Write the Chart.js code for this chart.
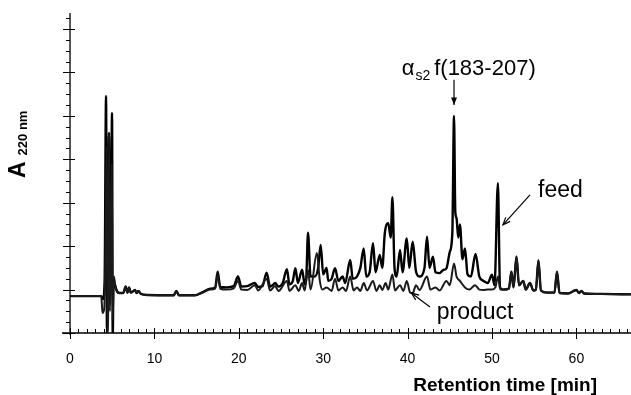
<!DOCTYPE html>
<html>
<head>
<meta charset="utf-8">
<script src="https://cdn.jsdelivr.net/npm/chart.js@4.4.1/dist/chart.umd.min.js"></script>
<style>
html,body{margin:0;padding:0;background:#fff;}
#wrap{width:631px;height:395px;position:relative;}
</style>
</head>
<body>
<div id="wrap"><canvas id="c" width="631" height="395"></canvas></div>
<script>
// ---- data ----
const xTickLabels = [0, 10, 20, 30, 40, 50, 60];
const xTitle = 'Retention time [min]';

const feedTime = [0,3.7,3.9,4.1,4.27,4.38,4.5,4.62,4.72,4.85,4.98,5.06,5.15,5.33,5.6,5.9,6.3,6.6,6.8,7.0,7.2,7.7,7.9,8.1,8.4,9.2,
  12.3,12.6,12.9,14.8,15.6,16.6,17.2,17.5,17.8,18.6,19.4,19.9,20.3,21.0,21.9,22.3,22.8,23.3,23.7,24.0,24.3,24.7,25.2,25.7,26.0,26.4,26.7,27.0,27.5,27.8,
  28.0,28.2,28.5,29.0,29.4,29.7,30.0,30.4,30.6,31.0,31.4,31.8,32.3,32.6,33.2,33.5,34.0,34.4,34.8,35.1,35.5,35.9,36.2,36.7,37.0,37.3,37.7,38.0,38.2,38.45,
  38.7,39.1,39.4,39.9,40.2,40.6,41.0,41.4,42.0,42.3,42.6,43.0,43.3,43.8,44.2,44.6,45.0,45.3,45.5,45.65,45.8,46.0,46.2,46.5,46.8,47.1,47.5,48.05,48.5,
  49.0,49.5,50.0,50.3,50.7,50.95,51.3,52.0,52.3,52.55,52.9,53.2,53.7,54.0,54.5,54.9,55.2,55.5,55.8,56.5,57.4,57.7,58.0,59.0,60.0,60.3,60.6,60.9,63.0,66.5];
const feedAbs = [0.85,0.85,0.78,1.2,5.46,0.0,1.5,4.61,1.0,2.0,5.07,-0.1,1.2,1.1,0.95,0.92,0.92,1.07,0.93,1.05,0.93,0.99,0.92,0.97,0.9,0.875,
  0.87,0.97,0.87,0.87,0.93,1.02,1.05,1.41,1.06,1.05,1.08,1.30,1.07,1.08,1.15,1.06,1.08,1.39,1.07,1.1,1.15,1.07,1.15,1.47,1.12,1.2,1.49,1.15,1.46,1.12,
  1.3,2.31,1.3,1.3,1.5,2.03,1.35,1.5,1.2,1.25,1.49,1.2,1.3,1.15,1.68,1.25,1.3,1.5,1.95,1.3,1.4,2.07,1.4,1.80,1.5,2.30,2.53,2.2,3.13,1.5,
  1.3,1.91,1.4,2.18,1.5,2.10,1.41,1.3,1.5,2.22,1.5,1.76,1.4,1.38,1.45,1.49,1.87,2.3,5.0,2.8,2.64,2.2,2.5,1.7,1.95,1.35,1.3,1.82,1.3,
  1.2,1.15,1.34,1.1,3.45,1.05,1.0,1.02,1.41,1.05,1.76,1.1,1.2,1.0,1.15,0.98,1.0,1.67,0.98,0.93,0.93,1.41,0.92,0.91,0.99,0.92,0.97,0.91,0.9,0.89];

const productTime = [0,3.7,3.85,4.05,4.2,4.35,4.45,4.55,4.62,4.72,4.85,4.95,5.05,5.2,5.4,5.8,6.3,6.6,6.8,7.0,7.2,7.7,7.9,8.1,8.4,9.2,
  12.3,12.6,12.9,14.8,15.6,16.6,17.2,17.5,17.8,18.6,19.4,19.9,20.3,21.0,21.9,22.3,23.3,23.7,24.3,24.7,25.7,26.0,26.7,27.1,27.5,27.8,28.2,28.5,
  29.25,29.6,29.9,30.4,31.0,31.4,31.8,32.3,32.7,33.2,33.6,34.0,34.4,34.8,35.2,35.9,36.3,36.7,37.0,37.4,37.7,38.2,38.5,39.1,39.5,39.9,40.3,40.6,
  41.0,41.4,42.3,42.7,43.3,43.8,44.6,45.0,45.5,45.8,46.2,46.8,47.3,48.0,48.5,49.0,49.5,50.0,50.4,50.7,51.0,51.3,52.0,52.3,52.55,52.9,53.2,53.7,
  54.0,54.5,54.9,55.2,55.5,55.8,56.5,57.4,57.7,58.0,59.0,60.0,60.3,60.6,60.9,63.0,66.5];
const productAbs = [0.85,0.85,0.46,0.55,1.8,4.3,0.0,1.2,4.61,0.5,1.5,3.9,0.3,1.3,1.05,0.92,0.92,1.06,0.93,1.04,0.93,0.98,0.92,0.96,0.9,0.875,
  0.87,0.96,0.87,0.87,0.92,1.0,1.02,1.35,1.02,1.0,1.03,1.2,1.0,0.99,1.1,0.98,1.25,0.98,1.08,0.97,1.2,0.97,1.1,0.97,1.15,0.98,1.45,1.0,
  1.84,1.2,1.0,1.05,0.97,1.25,0.98,1.05,0.97,1.3,0.98,1.05,0.97,1.15,0.98,1.2,0.97,1.1,0.99,1.15,1.0,1.35,0.98,1.1,0.97,1.2,0.93,0.92,
  1.1,0.99,1.3,1.0,1.05,0.98,1.2,1.1,1.6,1.3,1.2,1.05,1.0,1.1,1.0,0.99,1.0,1.0,1.05,1.3,1.0,1.0,1.02,1.41,1.05,1.76,1.1,1.2,
  1.0,1.15,0.98,1.0,1.67,0.98,0.93,0.93,1.41,0.92,0.91,0.99,0.92,0.97,0.91,0.9,0.89];

// ---- layout / style (not data) ----
const FONT = '"Liberation Sans", Arial, Helvetica, sans-serif';
const X_MIN = -0.95, X_MAX = 66.47, Y_MIN = 0, Y_MAX = 7.37;

function pts(ts, vs){ return ts.map((t,i)=>({x:t, y:vs[i]})); }

function arrow(ctx, x1, y1, x2, y2, filled){
  const a = Math.atan2(y2-y1, x2-x1), L = 8, w = 0.38;
  ctx.beginPath(); ctx.moveTo(x1,y1); ctx.lineTo(x2,y2); ctx.stroke();
  ctx.beginPath();
  ctx.moveTo(x2 - L*Math.cos(a-w), y2 - L*Math.sin(a-w));
  ctx.lineTo(x2, y2);
  ctx.lineTo(x2 - L*Math.cos(a+w), y2 - L*Math.sin(a+w));
  if (filled){ ctx.closePath(); ctx.fill(); } else ctx.stroke();
}

const decor = {
  id: 'decor',
  afterDatasetsDraw(chart){
    const ctx = chart.ctx, xs = chart.scales.x, ys = chart.scales.y, ca = chart.chartArea;
    const X = v => xs.getPixelForValue(v), Y = v => ys.getPixelForValue(v);
    const x0 = X(0), yb = ca.bottom;
    ctx.save();
    ctx.strokeStyle = '#000'; ctx.fillStyle = '#000'; ctx.lineWidth = 1.3;
    ctx.beginPath(); ctx.moveTo(ca.left, yb); ctx.lineTo(ca.right, yb); ctx.stroke();
    ctx.beginPath(); ctx.moveTo(x0, ca.top); ctx.lineTo(x0, yb + 2); ctx.stroke();
    ctx.lineWidth = 1;
    for (let t = 0; t <= X_MAX; t += 1){
      const px = Math.round(X(t)) + 0.5;
      ctx.beginPath();
      if (t % 10 === 0){ ctx.moveTo(px, yb - 5); ctx.lineTo(px, yb + 6); }
      else { ctx.moveTo(px, yb - 4); ctx.lineTo(px, yb); }
      ctx.stroke();
    }
    for (let k = 0; k <= Math.floor(Y_MAX*4); k++){
      const v = k/4, py = Math.round(Y(v)) + 0.5;
      ctx.beginPath();
      if (k % 4 === 0){ ctx.moveTo(x0 - 7, py); ctx.lineTo(x0 + 5, py); }
      else { ctx.moveTo(x0 - 4, py); ctx.lineTo(x0, py); }
      ctx.stroke();
    }
    // y title  A 220 nm
    ctx.save();
    ctx.translate(25, 178); ctx.rotate(-Math.PI/2);
    ctx.textBaseline = 'alphabetic'; ctx.textAlign = 'left';
    ctx.font = 'bold 23px ' + FONT; ctx.fillText('A', 0, 0);
    const aw = ctx.measureText('A').width;
    ctx.font = 'bold 13px ' + FONT; ctx.fillText('220 nm', aw + 6, 2);
    ctx.restore();
    // x title
    ctx.font = 'bold 19px ' + FONT; ctx.textAlign = 'right'; ctx.textBaseline = 'alphabetic';
    ctx.fillText(xTitle, 597, 391);
    // annotations
    ctx.textAlign = 'left';
    ctx.font = '22px ' + FONT;
    const ax = X(39.3), ay = Y(5.94);
    ctx.fillText('\u03B1', ax, ay);
    const w = ctx.measureText('\u03B1').width;
    ctx.font = '14px ' + FONT; ctx.fillText('s2', ax + w + 1, ay + 5);
    const w2 = ctx.measureText('s2').width;
    ctx.font = '22px ' + FONT; ctx.fillText('f(183-207)', ax + w + w2 + 5, ay);
    ctx.lineWidth = 1.2;
    arrow(ctx, X(45.5), Y(5.83), X(45.5), Y(5.25), true);
    ctx.font = '23px ' + FONT;
    ctx.fillText('feed', X(55.45), Y(3.13));
    arrow(ctx, X(54.5), Y(3.18), X(51.3), Y(2.49), false);
    ctx.fillText('product', X(43.45), Y(0.32));
    arrow(ctx, X(42.65), Y(0.6), X(40.46), Y(0.92), false);
    ctx.restore();
  }
};

new Chart(document.getElementById('c'), {
  type: 'line',
  data: {
    datasets: [
      { label: 'product', data: pts(productTime, productAbs), borderColor: '#1a1a1a', borderWidth: 2.0, pointRadius: 0, cubicInterpolationMode: 'monotone', fill: false },
      { label: 'feed', data: pts(feedTime, feedAbs), borderColor: '#000', borderWidth: 2.4, pointRadius: 0, cubicInterpolationMode: 'monotone', fill: false }
    ]
  },
  options: {
    responsive: false, animation: false, devicePixelRatio: 1,
    layout: { padding: { left: 62, right: 0, top: 13, bottom: 0 } },
    plugins: { legend: { display: false }, tooltip: { enabled: false } },
    scales: {
      x: {
        type: 'linear', min: X_MIN, max: X_MAX,
        grid: { display: false, drawTicks: false }, border: { display: false },
        afterBuildTicks: s => { s.ticks = xTickLabels.map(v => ({ value: v })); },
        afterFit: s => { s.height = 62; },
        ticks: { padding: 18, color: '#000', font: { family: FONT, size: 14 }, maxRotation: 0, autoSkip: false }
      },
      y: { display: false, min: Y_MIN, max: Y_MAX }
    }
  },
  plugins: [decor]
});
</script>
</body>
</html>
